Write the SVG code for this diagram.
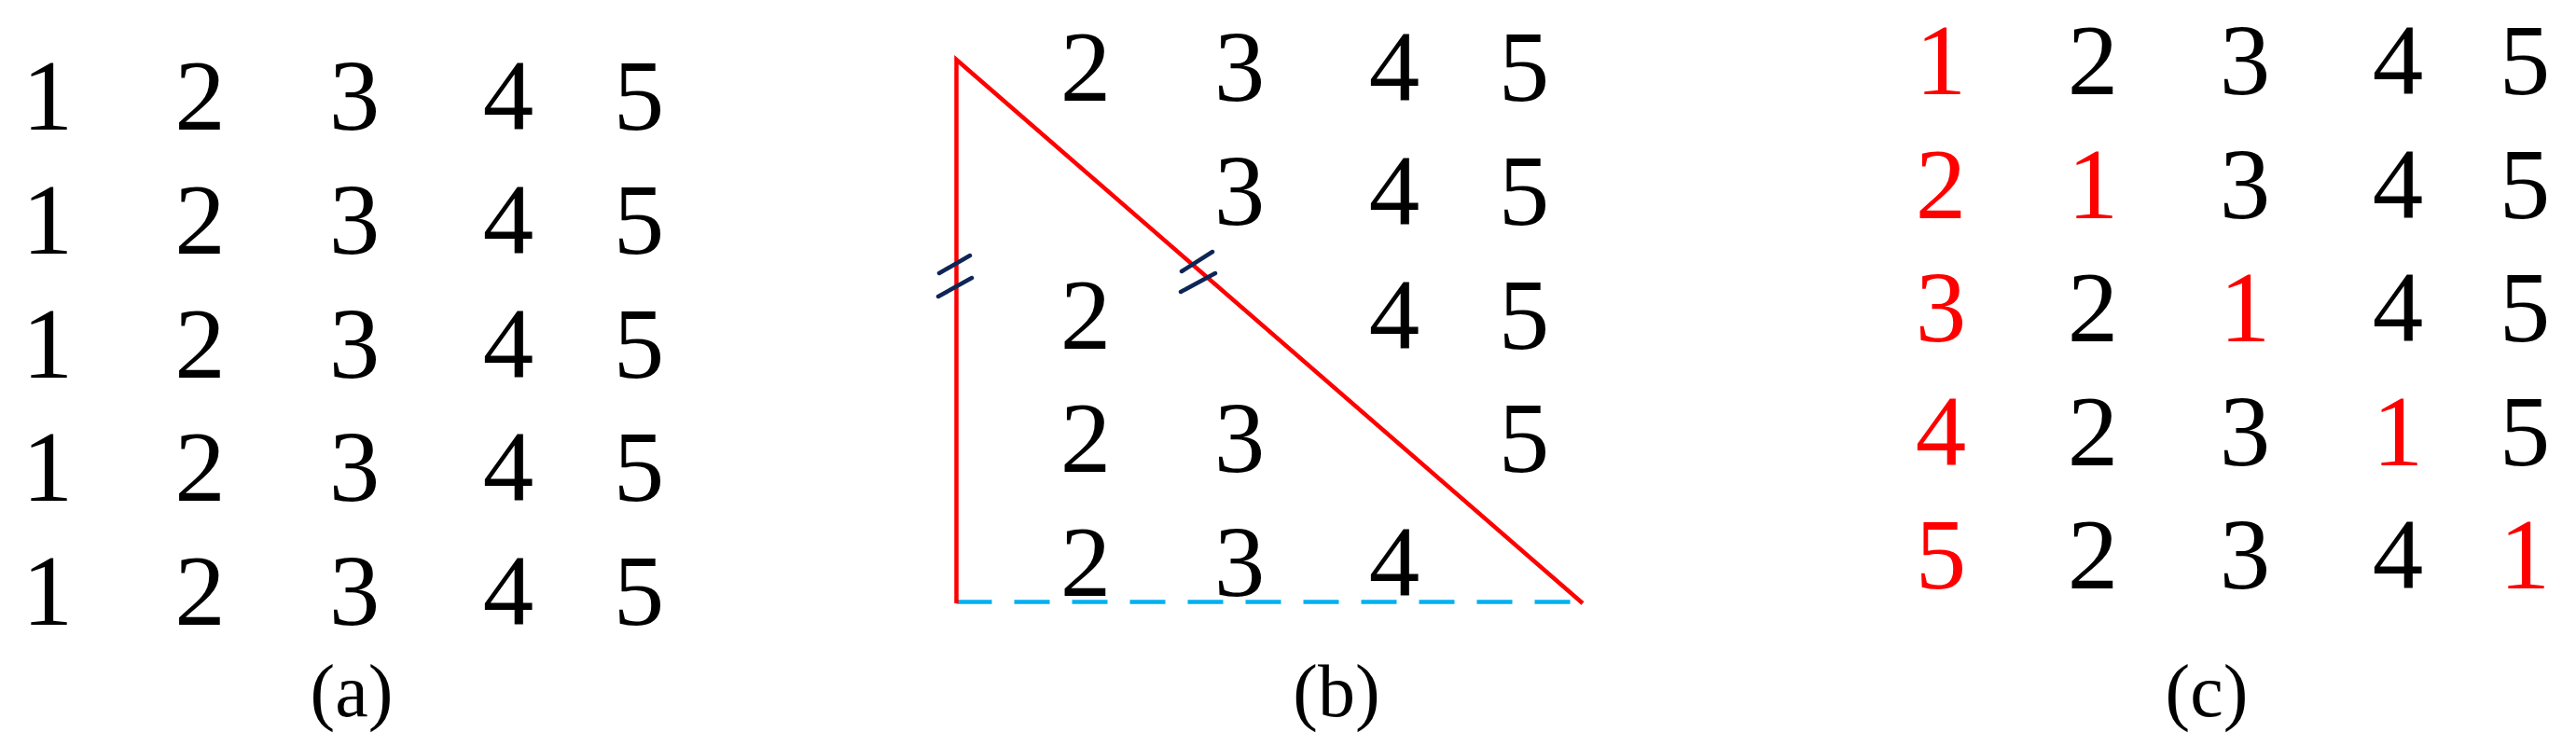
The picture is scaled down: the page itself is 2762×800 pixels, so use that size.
<svg xmlns="http://www.w3.org/2000/svg" width="2762" height="800" viewBox="0 0 2762 800">
<style>
text{font-family:"Liberation Serif","Times New Roman",serif;text-anchor:middle;fill:#000}
.d{font-size:109px}
.r{fill:#FF0000}
.lab{font-size:80px}
.red{stroke:#FF0000;stroke-width:4.5;fill:none}
.tick{stroke:#0D2656;stroke-width:4.5;stroke-linecap:round;fill:none}
.dash{stroke:#00B0F0;stroke-width:4.5;stroke-dasharray:38 24;fill:none}
</style>
<rect width="2762" height="800" fill="#fff"/>
<g id="panel-a" class="d">
<text x="51" y="139">1</text><text x="214.5" y="139">2</text><text x="380" y="139">3</text><text x="545" y="139">4</text><text x="685" y="139">5</text>
<text x="51" y="272">1</text><text x="214.5" y="272">2</text><text x="380" y="272">3</text><text x="545" y="272">4</text><text x="685" y="272">5</text>
<text x="51" y="405">1</text><text x="214.5" y="405">2</text><text x="380" y="405">3</text><text x="545" y="405">4</text><text x="685" y="405">5</text>
<text x="51" y="537">1</text><text x="214.5" y="537">2</text><text x="380" y="537">3</text><text x="545" y="537">4</text><text x="685" y="537">5</text>
<text x="51" y="670">1</text><text x="214.5" y="670">2</text><text x="380" y="670">3</text><text x="545" y="670">4</text><text x="685" y="670">5</text>
</g>
<text id="label-a" class="lab" x="377" y="768">(a)</text>
<g id="connectors">
<line class="dash" x1="1025.5" y1="645.5" x2="1685" y2="645.5"/>
<polyline class="red" points="1025.5,647 1025.5,64 1697,647"/>
<line class="tick" x1="1007" y1="293" x2="1040" y2="274"/>
<line class="tick" x1="1006" y1="318" x2="1042" y2="298"/>
<line class="tick" x1="1267" y1="291" x2="1300" y2="270"/>
<line class="tick" x1="1266" y1="313" x2="1303" y2="293"/>
</g>
<g id="panel-b" class="d">
<text x="1164" y="108">2</text><text x="1329" y="108">3</text><text x="1495" y="108">4</text><text x="1634" y="108">5</text>
<text x="1329" y="241">3</text><text x="1495" y="241">4</text><text x="1634" y="241">5</text>
<text x="1164" y="373.5">2</text><text x="1495" y="373.5">4</text><text x="1634" y="373.5">5</text>
<text x="1164" y="506">2</text><text x="1329" y="506">3</text><text x="1634" y="506">5</text>
<text x="1164" y="639">2</text><text x="1329" y="639">3</text><text x="1495" y="639">4</text>
</g>
<text id="label-b" class="lab" x="1433" y="768">(b)</text>
<g id="panel-c" class="d">
<text class="r" x="2081" y="100.5">1</text><text x="2244" y="100.5">2</text><text x="2407" y="100.5">3</text><text x="2571" y="100.5">4</text><text x="2707" y="100.5">5</text>
<text class="r" x="2081" y="233.5">2</text><text class="r" x="2244" y="233.5">1</text><text x="2407" y="233.5">3</text><text x="2571" y="233.5">4</text><text x="2707" y="233.5">5</text>
<text class="r" x="2081" y="366">3</text><text x="2244" y="366">2</text><text class="r" x="2407" y="366">1</text><text x="2571" y="366">4</text><text x="2707" y="366">5</text>
<text class="r" x="2081" y="498.5">4</text><text x="2244" y="498.5">2</text><text x="2407" y="498.5">3</text><text class="r" x="2571" y="498.5">1</text><text x="2707" y="498.5">5</text>
<text class="r" x="2081" y="631">5</text><text x="2244" y="631">2</text><text x="2407" y="631">3</text><text x="2571" y="631">4</text><text class="r" x="2707" y="631">1</text>
</g>
<text id="label-c" class="lab" x="2366" y="768">(c)</text>
</svg>
